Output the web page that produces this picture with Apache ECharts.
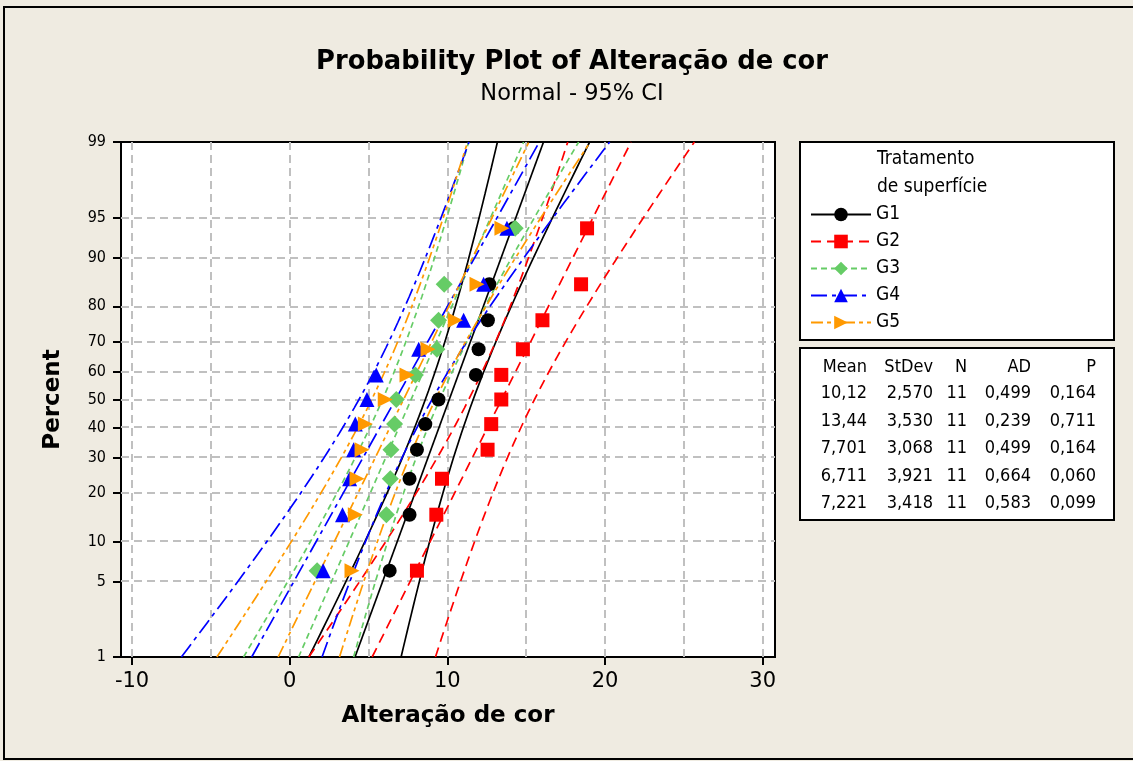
<!DOCTYPE html>
<html><head><meta charset="utf-8">
<script src="https://cdn.jsdelivr.net/npm/echarts@6/dist/echarts.min.js"></script>
<style>html,body{margin:0;padding:0;background:#EFEBE1}#c{width:1133px;height:761px}</style>
</head><body><div id="c"></div>
<script>
// ---- data ----
const groups = ['G1', 'G2', 'G3', 'G4', 'G5'];
const rankPercents = [6.1, 14.9, 23.7, 32.5, 41.2, 50, 58.8, 67.5, 76.3, 85.1, 93.9];
const g1Values = [6.34, 7.60, 7.60, 8.07, 8.60, 9.44, 11.81, 11.98, 12.57, 12.66, 14.2];
const g2Values = [8.07, 9.30, 9.66, 12.55, 12.78, 13.42, 13.42, 14.79, 16.03, 18.48, 18.86];
const g3Values = [1.74, 6.13, 6.38, 6.42, 6.65, 6.76, 7.97, 9.34, 9.44, 9.80, 14.30];
const g4Values = [2.12, 3.35, 3.80, 4.06, 4.16, 4.90, 5.49, 8.18, 11.03, 12.30, 13.78];
const g5Values = [3.95, 4.16, 4.27, 4.59, 4.80, 6.06, 7.44, 8.77, 10.50, 11.88, 13.46];
const meanText = ['10,12', '13,44', '7,701', '6,711', '7,221'];
const stdevText = ['2,570', '3,530', '3,068', '3,921', '3,418'];
const nText = ['11', '11', '11', '11', '11'];
const adText = ['0,499', '0,239', '0,499', '0,664', '0,583'];
const pText = ['0,164', '0,711', '0,164', '0,060', '0,099'];
const percentTicks = [1, 5, 10, 20, 30, 40, 50, 60, 70, 80, 90, 95, 99];
const percentGrid = [5, 10, 20, 30, 40, 50, 60, 70, 80, 90, 95];
const xTicks = [-10, 0, 10, 20, 30];
const xGrid = [-10, -5, 0, 5, 10, 15, 20, 25, 30];

// ---- styles ----
const FONT_C = '"DejaVu Sans Condensed", "DejaVu Sans", sans-serif';
const FONT = '"DejaVu Sans", sans-serif';
const colors = ['#000000', '#FF0000', '#66CC66', '#0000FF', '#FF9900'];
const dashes = ['solid', [10, 6], [6, 4], [16, 5, 4, 5], [12, 4, 4, 4, 4, 4]];
const symbols = ['circle', 'rect', 'diamond', 'triangle', 'triangle'];
const symbolSizes = [14, 14, 17, 15, 15];
const symbolRotates = [0, 0, 0, 0, -90];
const allValues = [g1Values, g2Values, g3Values, g4Values, g5Values];

// inverse standard normal CDF (Acklam) – probability axis transform
function qnorm(p) {
  const a = [-3.969683028665376e+01, 2.209460984245205e+02, -2.759285104469687e+02, 1.383577518672690e+02, -3.066479806614716e+01, 2.506628277459239e+00];
  const b = [-5.447609879822406e+01, 1.615858368580409e+02, -1.556989798598866e+02, 6.680131188771972e+01, -1.328068155288572e+01];
  const c = [-7.784894002430293e-03, -3.223964580411365e-01, -2.400758277161838e+00, -2.549732539343734e+00, 4.374664141464968e+00, 2.938163982698783e+00];
  const d = [7.784695709041462e-03, 3.224671290700398e-01, 2.445134137142996e+00, 3.754408661907416e+00];
  const pl = 0.02425, ph = 1 - pl;
  let q, r;
  if (p < pl) { q = Math.sqrt(-2 * Math.log(p)); return (((((c[0]*q+c[1])*q+c[2])*q+c[3])*q+c[4])*q+c[5]) / ((((d[0]*q+d[1])*q+d[2])*q+d[3])*q+1); }
  if (p <= ph) { q = p - 0.5; r = q*q; return (((((a[0]*r+a[1])*r+a[2])*r+a[3])*r+a[4])*r+a[5])*q / (((((b[0]*r+b[1])*r+b[2])*r+b[3])*r+b[4])*r+1); }
  q = Math.sqrt(-2 * Math.log(1 - p));
  return -(((((c[0]*q+c[1])*q+c[2])*q+c[3])*q+c[4])*q+c[5]) / ((((d[0]*q+d[1])*q+d[2])*q+d[3])*q+1);
}
const num = s => parseFloat(s.replace(',', '.'));
const zMin = qnorm(0.01), zMax = qnorm(0.99);
const zTicks = percentTicks.map(p => qnorm(p / 100));
function pctLabel(v) {
  let best = 0, bd = Infinity;
  zTicks.forEach((z, i) => { const dd = Math.abs(z - v); if (dd < bd) { bd = dd; best = i; } });
  return String(percentTicks[best]);
}
const zSamples = [];
for (let i = 0; i <= 60; i++) zSamples.push(zMin + (zMax - zMin) * i / 60);

const series = [];
// gridlines (dashed gray) underneath everything
series.push({
  type: 'line', name: 'grid', data: [], z: 1, silent: true,
  markLine: {
    silent: true, z: 1, symbol: ['none', 'none'], label: { show: false }, animation: false,
    lineStyle: { color: '#C0C0C0', type: [8, 5], width: 2 },
    emphasis: { disabled: true },
    data: xGrid.map(v => ({ xAxis: v })).concat(percentGrid.map(p => ({ yAxis: qnorm(p / 100) })))
  }
});

groups.forEach((g, i) => {
  const m = num(meanText[i]), s = num(stdevText[i]), n = num(nText[i]);
  const ls = { color: colors[i], type: dashes[i], width: 1.7 };
  // fitted line
  series.push({
    type: 'line', name: g, z: 2, silent: true,
    symbol: symbols[i], symbolSize: symbolSizes[i], symbolRotate: symbolRotates[i], showSymbol: false,
    itemStyle: { color: colors[i] }, lineStyle: ls,
    data: [[m + s * zMin, zMin], [m + s * zMax, zMax]]
  });
  // 95% CI bounds
  [-1, 1].forEach(sign => {
    series.push({
      type: 'line', name: g, z: 2, silent: true, symbol: 'none', smooth: false,
      itemStyle: { color: colors[i] }, lineStyle: ls,
      data: zSamples.map(z => [m + s * z + sign * 1.959964 * s * Math.sqrt((1 + z * z / 2) / n), z])
    });
  });
  // points
  series.push({
    type: 'scatter', name: g, z: 3,
    symbol: symbols[i], symbolSize: symbolSizes[i], symbolRotate: symbolRotates[i],
    itemStyle: { color: colors[i], opacity: 1 },
    data: allValues[i].map((v, k) => [v, qnorm(rankPercents[k] / 100)])
  });
});

// table texts
const tableCols = [
  { x: 867, head: 'Mean', vals: meanText },
  { x: 933, head: 'StDev', vals: stdevText },
  { x: 967, head: 'N', vals: nText },
  { x: 1031, head: 'AD', vals: adText },
  { x: 1096, head: 'P', vals: pText }
];
const tableRowsY = [367, 393, 421, 448, 476, 503];
const graphics = [
  { type: 'rect', z: -100, silent: true, shape: { x: 4, y: 7, width: 1160, height: 752 }, style: { fill: '#EFEBE1', stroke: '#000', lineWidth: 2 } },
  { type: 'text', silent: true, style: { text: 'Probability Plot of Alteração de cor', x: 572, y: 62, textAlign: 'center', textVerticalAlign: 'middle', fontSize: 25.8, fontWeight: 'bold', fontFamily: FONT, fill: '#000' } },
  { type: 'text', silent: true, style: { text: 'Normal - 95% CI', x: 572, y: 94, textAlign: 'center', textVerticalAlign: 'middle', fontSize: 22.5, fontFamily: FONT, fill: '#000' } },
  { type: 'rect', z: 1, silent: true, shape: { x: 800, y: 142, width: 314, height: 198 }, style: { fill: '#fff', stroke: '#000', lineWidth: 2 } },
  { type: 'rect', z: 1, silent: true, shape: { x: 800, y: 348, width: 314, height: 172 }, style: { fill: '#fff', stroke: '#000', lineWidth: 2 } },
  { type: 'text', z: 2, silent: true, style: { text: 'Tratamento', x: 877, y: 159, textVerticalAlign: 'middle', fontSize: 19, fontFamily: FONT_C, fill: '#000' } },
  { type: 'text', z: 2, silent: true, style: { text: 'de superfície', x: 877, y: 187, textVerticalAlign: 'middle', fontSize: 19, fontFamily: FONT_C, fill: '#000' } }
];
tableCols.forEach(col => {
  [col.head].concat(col.vals).forEach((t, r) => {
    graphics.push({ type: 'text', z: 2, silent: true, style: { text: t, x: col.x, y: tableRowsY[r], textAlign: 'right', textVerticalAlign: 'middle', fontSize: 18, fontFamily: FONT_C, fill: '#000' } });
  });
});

const chart = echarts.init(document.getElementById('c'), null, { renderer: 'canvas' });
chart.setOption({
  animation: false,
  backgroundColor: '#EFEBE1',
  grid: { left: 121, top: 142, width: 654, height: 515, show: true, backgroundColor: '#fff', borderColor: '#000', borderWidth: 2, containLabel: false, outerBoundsMode: 'none' },
  xAxis: {
    type: 'value', min: -10.7, max: 30.78,
    axisLine: { show: true, onZero: false, lineStyle: { color: '#000', width: 2 } },
    axisTick: { show: true, customValues: xTicks, length: 8, lineStyle: { color: '#000', width: 2 } },
    axisLabel: { customValues: xTicks, fontSize: 21, color: '#000', margin: 14, fontFamily: FONT, showMinLabel: true, showMaxLabel: true },
    splitLine: { show: false },
    name: 'Alteração de cor', nameLocation: 'middle', nameGap: 48,
    nameTextStyle: { fontSize: 23, fontWeight: 'bold', color: '#000', fontFamily: FONT }
  },
  yAxis: {
    type: 'value', min: zMin, max: zMax,
    axisLine: { show: true, onZero: false, lineStyle: { color: '#000', width: 2 } },
    axisTick: { show: true, customValues: zTicks, length: 8, lineStyle: { color: '#000', width: 2 } },
    axisLabel: { customValues: zTicks, formatter: v => pctLabel(v), fontSize: 16, color: '#000', margin: 15, fontFamily: FONT_C, showMinLabel: true, showMaxLabel: true },
    splitLine: { show: false },
    name: 'Percent', nameLocation: 'middle', nameGap: 56,
    nameTextStyle: { fontSize: 23, fontWeight: 'bold', color: '#000', fontFamily: FONT }
  },
  legend: {
    orient: 'vertical', left: 810, top: 205, padding: 0, itemWidth: 60, itemHeight: 17, itemGap: 8,
    data: groups, selectedMode: false, z: 5,
    textStyle: { fontSize: 19, color: '#000', fontFamily: FONT_C },
    lineStyle: { width: 2 }
  },
  graphic: graphics,
  series: series
});
</script></body></html>
